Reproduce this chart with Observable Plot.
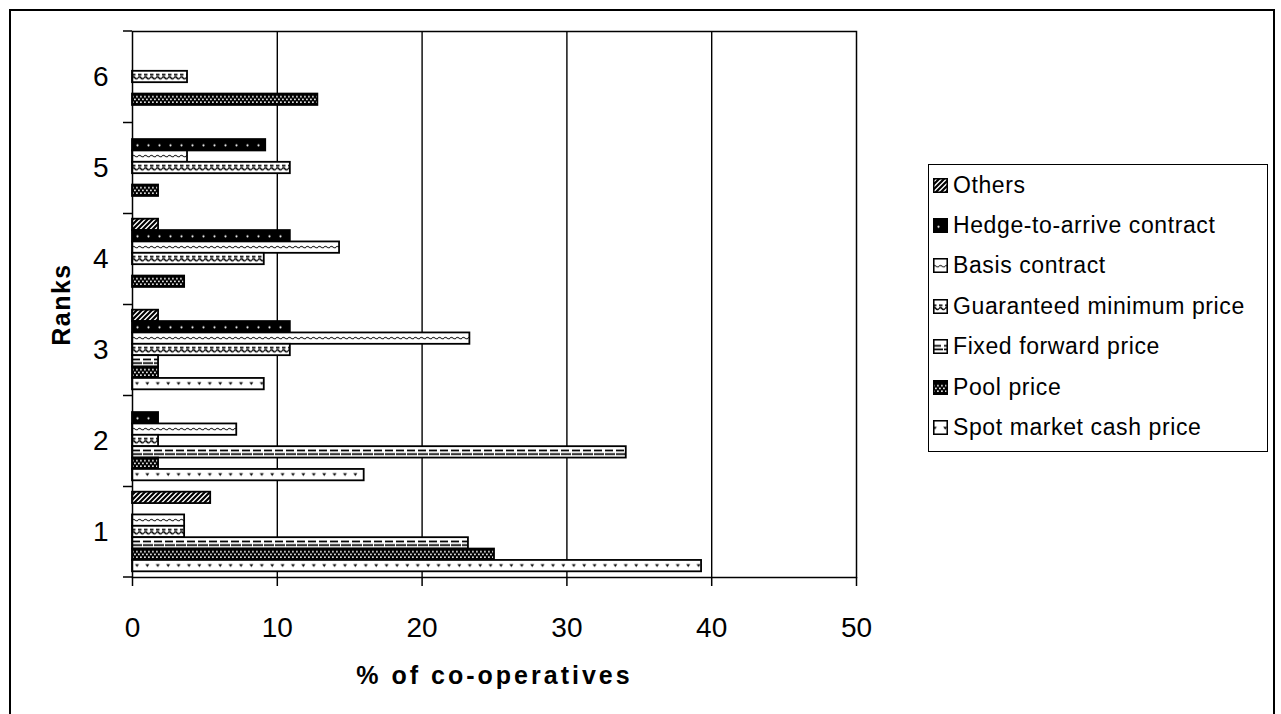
<!DOCTYPE html>
<html><head><meta charset="utf-8">
<script src="https://cdn.jsdelivr.net/npm/d3@7"></script>
<script src="https://cdn.jsdelivr.net/npm/@observablehq/plot@0.6"></script>
<style>
html,body{margin:0;padding:0;background:#fff;overflow:hidden;}
#wrap{position:relative;width:1281px;height:714px;overflow:hidden;background:#fff;font-family:"Liberation Sans",Arial,sans-serif;}
#outer{position:absolute;left:9px;top:9px;width:1266px;height:780px;border:2px solid #000;box-sizing:border-box;}
#chart{position:absolute;left:0;top:0;}
#legend{position:absolute;left:928px;top:164px;width:340px;height:288px;border:1.5px solid #000;box-sizing:border-box;background:#fff;padding-top:0px;}
.item{height:40.4px;display:flex;align-items:center;font-size:23px;letter-spacing:0.6px;color:#000;white-space:nowrap;}
.item svg{margin-left:4px;margin-right:5px;flex:none;}
</style></head><body>
<div id="wrap"><div id="outer"></div><div id="chart"></div><div id="legend"></div></div>
<svg id="defsvg" width="0" height="0" style="position:absolute;left:0;top:0"><defs id="defs"></defs></svg>
<script>
// Categories
const ranks = ["6", "5", "4", "3", "2", "1"]; // top to bottom
const rankOrder = ["1", "2", "3", "4", "5", "6"]; // value order
// Series, listed top to bottom within each rank group (legend order)
const series = ["Others", "Hedge-to-arrive contract", "Basis contract", "Guaranteed minimum price", "Fixed forward price", "Pool price", "Spot market cash price"];
// Values (% of co-operatives) for ranks 1..6
const others     = [5.4, 0,    1.8,  1.8,  0,    0];
const hedge      = [0,   1.8,  10.9, 10.9, 9.2,  0];
const basis      = [3.6, 7.2,  23.3, 14.3, 3.8,  0];
const guaranteed = [3.6, 1.8,  10.9, 9.1,  10.9, 3.8];
const fixed      = [23.2, 34.1, 1.8, 0,    0,    0];
const pool       = [25.0, 1.8,  1.8, 3.6,  1.8,  12.8];
const spot       = [39.3, 16.0, 9.1, 0,    0,    0];
const seriesValues = [others, hedge, basis, guaranteed, fixed, pool, spot];
const xTicks = [0, 10, 20, 30, 40, 50];
const xGrid = [10, 20, 30, 40];
const xLabel = "% of co-operatives";
const yLabel = "Ranks";

const key = (r, s) => r + "|" + s;
const domain = ranks.flatMap((r, i) => [...series.map(s => key(r, s)), ...(i < ranks.length - 1 ? ["gap" + r] : [])]);
const gapKeys = ranks.slice(0, -1).map(r => "gap" + r);
const labelKeys = ranks.map(r => key(r, "Guaranteed minimum price"));

const data = [];
series.forEach((s, si) => rankOrder.forEach((r, ri) => data.push({series: s, rank: r, value: seriesValues[si][ri], pat: "url(#pat" + si + ")"})));

const W = 880, H = 714, mt = 31, mb = 137, ml = 132, mr = 24;

function edgeTicks(index, scales, values, dims) {
  const g = d3.create("svg:g");
  for (const y of [dims.marginTop, dims.height - dims.marginBottom]) {
    g.append("line").attr("x1", dims.marginLeft - 9).attr("x2", dims.marginLeft).attr("y1", y).attr("y2", y)
      .attr("stroke", "#000").attr("stroke-width", 1.5);
  }
  return g.node();
}

const plot = Plot.plot({
  width: W, height: H,
  marginTop: mt, marginBottom: mb, marginLeft: ml, marginRight: mr,
  style: {fontFamily: "'Liberation Sans', Arial, sans-serif", color: "#000", background: "transparent", overflow: "visible"},
  x: {domain: [0, 50]},
  y: {domain, paddingInner: 0, paddingOuter: 0.5, round: false},
  color: {type: "identity"},
  marks: [
    Plot.gridX(xGrid, {stroke: "#000", strokeOpacity: 1, strokeWidth: 1.4}),
    Plot.barX(data.filter(d => d.value > 0), {x: "value", y: d => key(d.rank, d.series), fill: "pat", stroke: "#000", strokeWidth: 1.8}),
    Plot.frame({stroke: "#000", strokeWidth: 1.5}),
    Plot.axisY(gapKeys, {tickSize: 9, tickFormat: () => "", strokeWidth: 1.5, label: null}),
    Plot.axisY(labelKeys, {tickSize: 0, tickPadding: 24, tickFormat: k => k.split("|")[0], fontSize: 28, label: null}),
    Plot.axisX(xTicks, {tickSize: 9, tickPadding: 31, fontSize: 28, strokeWidth: 1.5, label: null}),
    edgeTicks,
    Plot.text([xLabel], {text: d => d, frameAnchor: "bottom", dy: 98, fontSize: 25, fontWeight: "bold", lineAnchor: "middle", textAnchor: "middle"}),
    Plot.text([yLabel], {text: d => d, frameAnchor: "left", dx: -71, rotate: -90, fontSize: 25, fontWeight: "bold", lineAnchor: "middle", textAnchor: "middle"})
  ]
});
document.getElementById("chart").appendChild(plot);
d3.select(plot).selectAll("text").filter(function() { return this.textContent === xLabel; }).attr("letter-spacing", "3px");
d3.select(plot).selectAll("text").filter(function() { return this.textContent === yLabel; }).attr("letter-spacing", "1.5px");

// Patterns aligned to bar bands
let h = (H - mt - mb) / (domain.length + 1), y0 = mt + h / 2;
try { const ys = plot.scale("y"); if (ys && ys.bandwidth) { h = ys.bandwidth; y0 = ys.apply(domain[0]); } } catch (e) {}
const defs = d3.select("#defs");
function pat(id, w, aligned, draw) {
  const p = defs.append("pattern").attr("id", id).attr("patternUnits", "userSpaceOnUse")
    .attr("width", w).attr("height", aligned ? h : w).attr("x", ml).attr("y", aligned ? y0 : 0);
  draw(p, aligned ? h : w);
}
// Others: diagonal hatch
pat("pat0", 5, false, (p, t) => {
  p.append("rect").attr("width", 5).attr("height", 5).attr("fill", "#fff");
  p.append("path").attr("d", "M-1,6 L6,-1 M-2,2 L2,-2 M3,7 L7,3").attr("stroke", "#000").attr("stroke-width", 2.2);
});
// Hedge: black with sparse white dots
pat("pat1", 11, true, (p, t) => {
  p.append("rect").attr("width", 11).attr("height", t).attr("fill", "#000");
  p.append("circle").attr("cx", 5.5).attr("cy", t * 0.55).attr("r", 1.1).attr("fill", "#fff");
});
// Basis: white with thin wavy line
pat("pat2", 6, true, (p, t) => {
  p.append("rect").attr("width", 6).attr("height", t).attr("fill", "#fff");
  const m = t * 0.5;
  p.append("path").attr("d", `M0,${m} q1.5,-1.6 3,0 t3,0`).attr("fill", "none").attr("stroke", "#000").attr("stroke-width", 1);
});
// Guaranteed: dashes over waves
pat("pat3", 6, true, (p, t) => {
  p.append("rect").attr("width", 6).attr("height", t).attr("fill", "#fff");
  p.append("rect").attr("x", 0).attr("y", t * 0.26).attr("width", 3.5).attr("height", 1.6).attr("fill", "#000");
  p.append("path").attr("d", `M0,${t * 0.62} q1.5,-2 3,0 t3,0`).attr("fill", "none").attr("stroke", "#000").attr("stroke-width", 1.5);
});
// Fixed: horizontal dashed lines
pat("pat4", 11, true, (p, t) => {
  p.append("rect").attr("width", 11).attr("height", t).attr("fill", "#fff");
  p.append("rect").attr("x", 0).attr("y", t * 0.3).attr("width", 8).attr("height", 1.7).attr("fill", "#000");
  p.append("rect").attr("x", 0).attr("y", t * 0.62).attr("width", 10).attr("height", 1.7).attr("fill", "#000");
});
// Pool: dark checkered
pat("pat5", 4, true, (p, t) => {
  p.append("rect").attr("width", 4).attr("height", t).attr("fill", "#000");
  p.append("rect").attr("x", 0).attr("y", t * 0.22).attr("width", 1.8).attr("height", 1.4).attr("fill", "#fff");
  p.append("rect").attr("x", 2).attr("y", t * 0.46).attr("width", 1.8).attr("height", 1.4).attr("fill", "#fff");
  p.append("rect").attr("x", 0).attr("y", t * 0.7).attr("width", 1.8).attr("height", 1.4).attr("fill", "#fff");
});
// Spot: white with small v marks
pat("pat6", 10.4, true, (p, t) => {
  p.append("rect").attr("width", 10.4).attr("height", t).attr("fill", "#fff");
  const m = t * 0.5;
  p.append("path").attr("d", `M3,${m - 1.5} L7,${m - 1.5} L5,${m + 1.5} Z`).attr("fill", "#000");
});

// Legend
const legend = d3.select("#legend");
series.forEach((s, i) => {
  const it = legend.append("div").attr("class", "item");
  const sw = it.append("svg").attr("width", 15).attr("height", 15);
  sw.append("rect").attr("x", 0.75).attr("y", 0.75).attr("width", 13.5).attr("height", 13.5)
    .attr("fill", "url(#pat" + i + ")").attr("stroke", "#000").attr("stroke-width", 1.6);
  it.append("span").text(s);
});
</script>
</body></html>
